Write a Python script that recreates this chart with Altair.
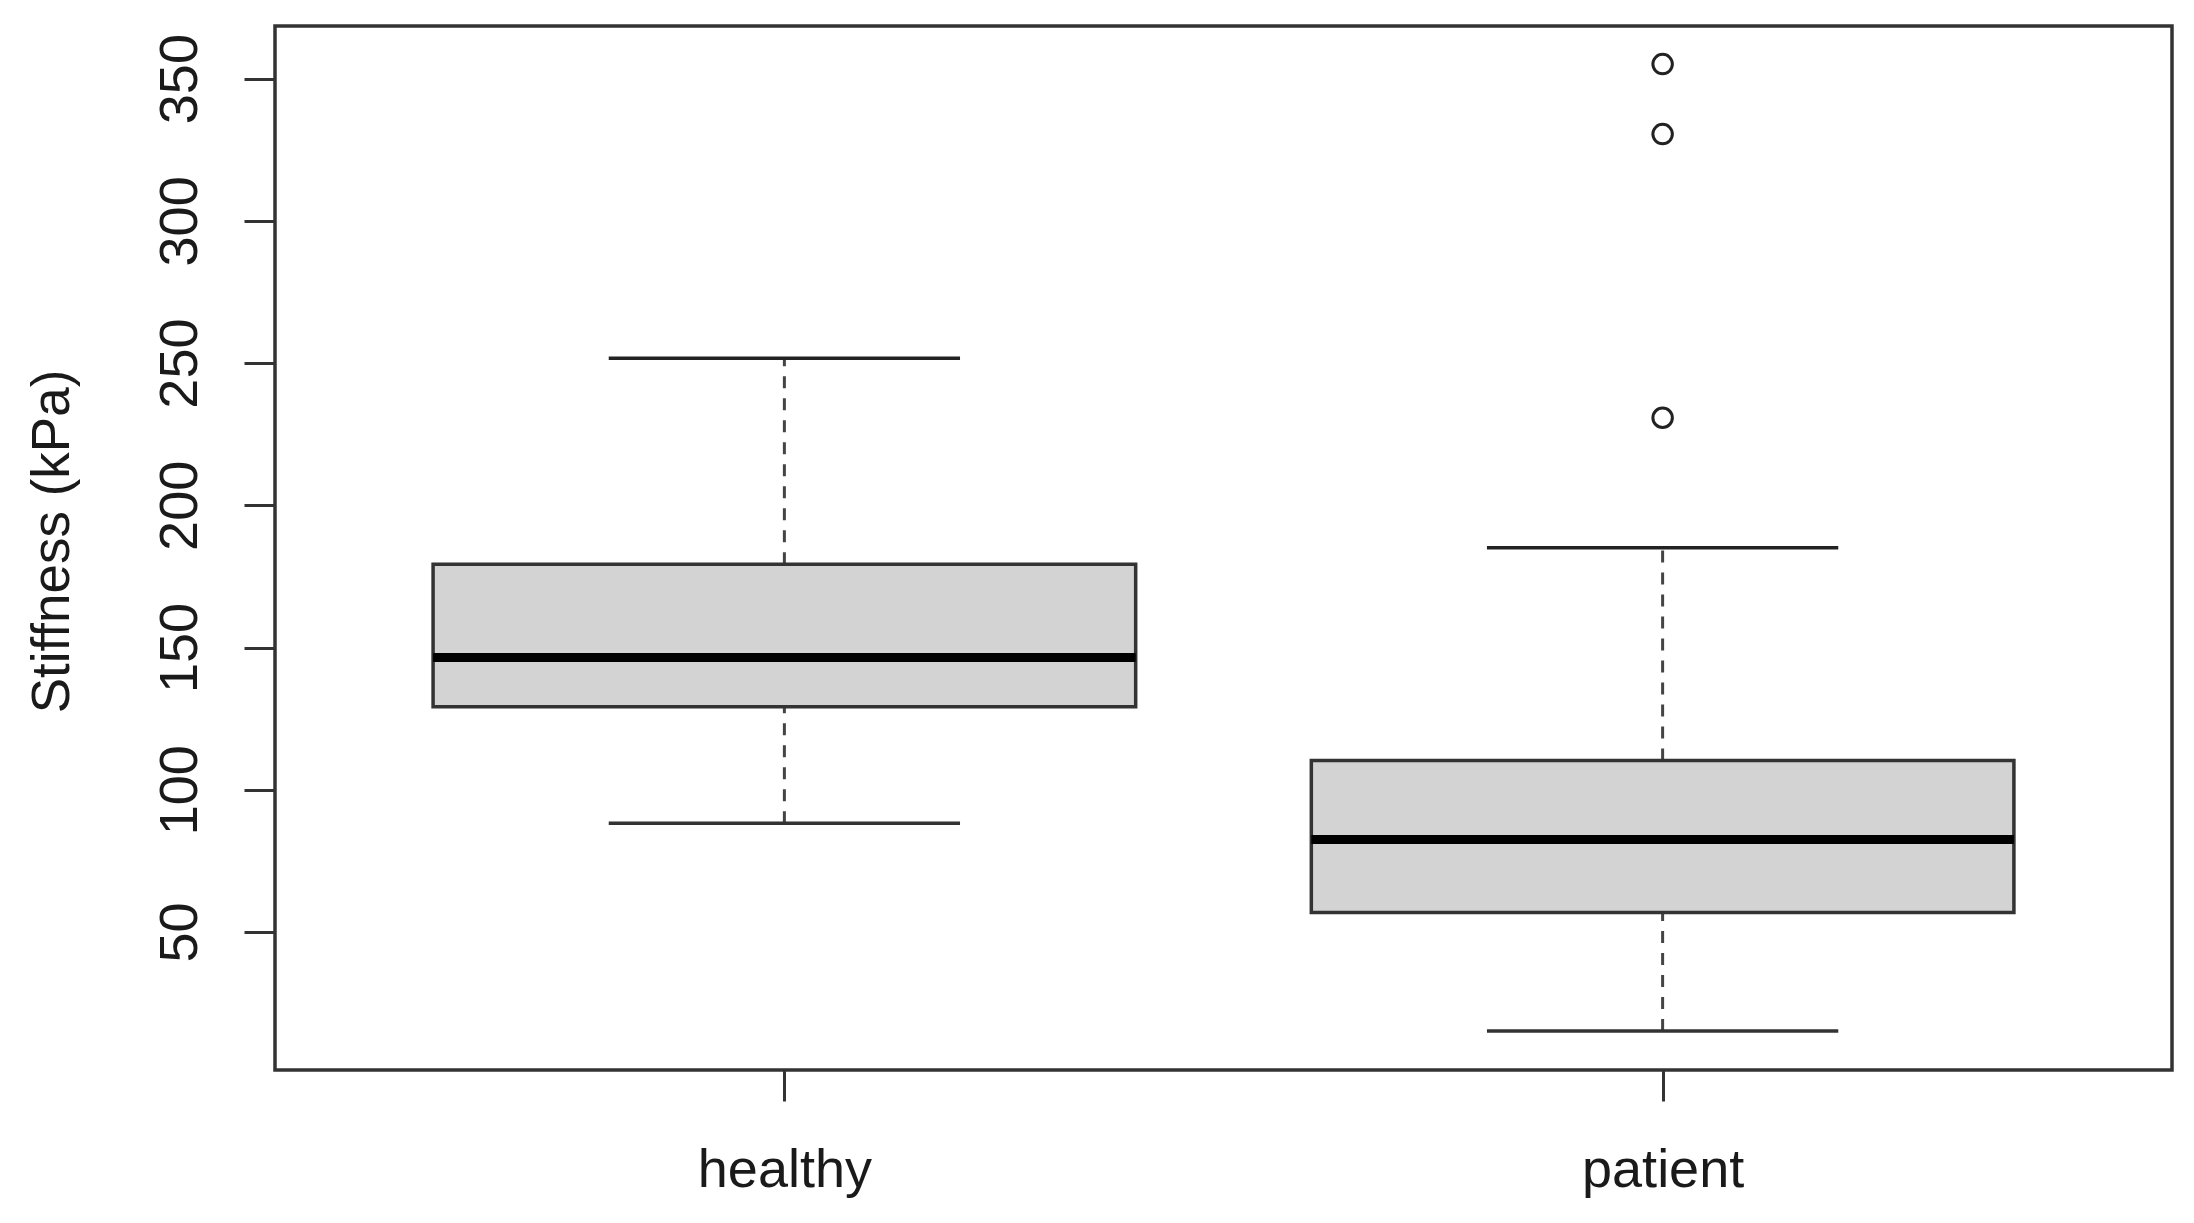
import altair as alt
import pandas as pd

groups = ["healthy", "patient"]
lower_whisker = [88.2, 15.2]
q1 = [129.2, 56.9]
median = [146.5, 82.5]
q3 = [179.3, 110.3]
upper_whisker = [251.7, 185.1]
outlier_group = ["patient", "patient", "patient"]
outlier_value = [355.1, 330.5, 230.8]
y_ticks = [50, 100, 150, 200, 250, 300, 350]

pos = [i + 1 for i in range(len(groups))]
box_df = pd.DataFrame({
    "group": groups, "pos": pos,
    "left": [p - 0.4 for p in pos], "right": [p + 0.4 for p in pos],
    "capl": [p - 0.2 for p in pos], "capr": [p + 0.2 for p in pos],
    "lo": lower_whisker, "q1": q1, "med": median, "q3": q3, "hi": upper_whisker,
})
out_df = pd.DataFrame({
    "group": outlier_group,
    "pos": [groups.index(g) + 1 for g in outlier_group],
    "value": outlier_value,
})

label_expr = " : ".join(
    [f"datum.value == {p} ? '{g}'" for p, g in zip(pos, groups)]
) + " : ''"

FONT = "Liberation Sans"
TXT = "#1a1a1a"

xscale = alt.Scale(domain=[0.42, 2.58], nice=False, zero=False)
yscale = alt.Scale(domain=[1.5, 368.5], nice=False, zero=False)

xaxis = alt.Axis(values=pos, labelExpr=label_expr, title=None, grid=False,
                 domain=False, tickSize=31, tickWidth=3, tickColor="#333333",
                 labelFontSize=54, labelFont=FONT, labelColor=TXT,
                 labelPadding=42)
yaxis = alt.Axis(values=y_ticks, title="Stiffness (kPa)", grid=False,
                 domain=False, tickSize=31, tickWidth=3, tickColor="#333333",
                 labelFontSize=54, labelFont=FONT, labelColor=TXT,
                 labelAngle=270, labelPadding=37,
                 titleFontSize=53, titleFont=FONT, titleColor=TXT,
                 titleFontWeight="normal", titleAngle=270,
                 titleX=-223, titleY=515, titleAlign="center",
                 titleBaseline="middle")

base = alt.Chart(box_df)

upper = base.mark_rule(color="#444444", strokeWidth=3, strokeDash=[12, 10]).encode(
    x=alt.X("pos:Q", scale=xscale, axis=xaxis),
    y=alt.Y("q3:Q", scale=yscale, axis=yaxis),
    y2="hi:Q",
)
lower = base.mark_rule(color="#444444", strokeWidth=3, strokeDash=[12, 10]).encode(
    x="pos:Q", y="lo:Q", y2="q1:Q",
)
cap_hi = base.mark_rule(color="#222222", strokeWidth=3.5).encode(
    x="capl:Q", x2="capr:Q", y="hi:Q",
)
cap_lo = base.mark_rule(color="#333333", strokeWidth=3.5).encode(
    x="capl:Q", x2="capr:Q", y="lo:Q",
)
box = base.mark_rect(fill="#d3d3d3", stroke="#333333", strokeWidth=3.5).encode(
    x="left:Q", x2="right:Q", y="q1:Q", y2="q3:Q",
)
med = base.mark_rule(color="#000000", strokeWidth=9).encode(
    x="left:Q", x2="right:Q", y="med:Q",
)
outl = alt.Chart(out_df).mark_point(shape="circle", filled=False, size=380,
                                    strokeWidth=3, color="#222222", opacity=1).encode(
    x="pos:Q", y="value:Q",
)

chart = alt.layer(upper, lower, cap_hi, cap_lo, box, med, outl).properties(
    width=1897, height=1044,
    autosize=alt.AutoSizeParams(type="none"),
    padding={"left": 267, "top": 18, "right": 10, "bottom": 140},
    background="white",
).configure_view(stroke="#333333", strokeWidth=3.5)

chart.save("out.html", embed_options={"renderer": "svg", "actions": False})
